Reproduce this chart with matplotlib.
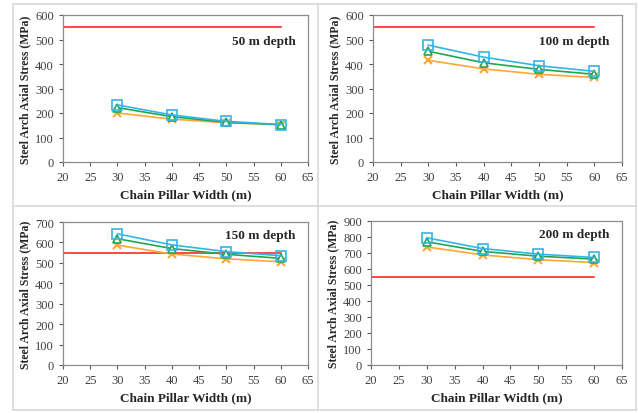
import matplotlib.pyplot as plt
from matplotlib.lines import Line2D

plt.rcParams['font.family'] = ['Liberation Serif', 'DejaVu Serif']

# pillar widths (m)
widths = [30, 40, 50, 60]

# depth panels
depths = ['50 m depth', '100 m depth', '150 m depth', '200 m depth']

# stresses per depth (MPa)
square_vals = [
    [233, 192, 166, 153],
    [477, 428, 393, 370],
    [642, 588, 555, 535],
    [795, 728, 693, 672],
]
triangle_vals = [
    [222, 185, 162, 152],
    [452, 405, 378, 358],
    [618, 570, 542, 522],
    [770, 710, 680, 662],
]
cross_vals = [
    [200, 175, 160, 153],
    [415, 380, 358, 345],
    [587, 543, 520, 505],
    [738, 688, 658, 640],
]

# yield strength line
yield_x = [20, 60]
yield_y = [550, 550]

y_max = [600, 600, 700, 900]
y_step = [100, 100, 100, 100]
label_y = [0.82, 0.82, 0.91, 0.91]

W, H = 638, 414
fig = plt.figure(figsize=(W / 100, H / 100), dpi=100)

# panel boxes in pixels: left, top, right, bottom
boxes = [
    (63, 16, 308, 163),
    (373, 16, 622, 163),
    (63, 223, 308, 366),
    (371, 222, 622, 366),
]

# table-like grid lines around the panels
grid_color = '#d9d9d9'
for y in [5, 207, 411]:
    fig.add_artist(Line2D([13 / W, 636 / W], [1 - y / H, 1 - y / H], color=grid_color, lw=1.2))
for x in [13, 318, 636]:
    fig.add_artist(Line2D([x / W, x / W], [1 - 5 / H, 1 - 411 / H], color=grid_color, lw=1.2))

c_sq = '#33b5e8'
c_tr = '#22a552'
c_x = '#ffa734'
c_red = '#ff2a2a'

for i, (l, t, r, b) in enumerate(boxes):
    ax = fig.add_axes([l / W, 1 - b / H, (r - l) / W, (b - t) / H])
    ax.plot(yield_x, yield_y, color=c_red, lw=1.2)
    ax.plot(widths, cross_vals[i], color=c_x, lw=1.2, marker='x', ms=6, mew=1.5)
    ax.plot(widths, triangle_vals[i], color=c_tr, lw=1.2, marker='^', ms=6,
            mfc='white', mec=c_tr, mew=1.2)
    ax.plot(widths, square_vals[i], color=c_sq, lw=1.2, marker='s', ms=6.5,
            mfc='none', mec=c_sq, mew=1.2)
    ax.set_xlim(20, 65)
    ax.set_ylim(0, y_max[i])
    ax.set_xticks(range(20, 66, 5))
    ax.set_yticks(range(0, y_max[i] + 1, y_step[i]))
    ax.tick_params(labelsize=9, length=3, width=0.8, colors='#595959', labelcolor='#404040')
    for s in ax.spines.values():
        s.set_color('#8c8c8c')
        s.set_linewidth(0.9)
    ax.set_xlabel('Chain Pillar Width (m)', fontsize=9.5, fontweight='bold', color='#262626', labelpad=4)
    ax.set_ylabel('Steel Arch Axial Stress (MPa)', fontsize=8.5, fontweight='bold', color='#262626', labelpad=3)
    ax.text(0.95, label_y[i], depths[i], transform=ax.transAxes, ha='right', va='center',
            fontsize=9.5, fontweight='bold', color='#262626')

fig.savefig('out.png', dpi=100)
